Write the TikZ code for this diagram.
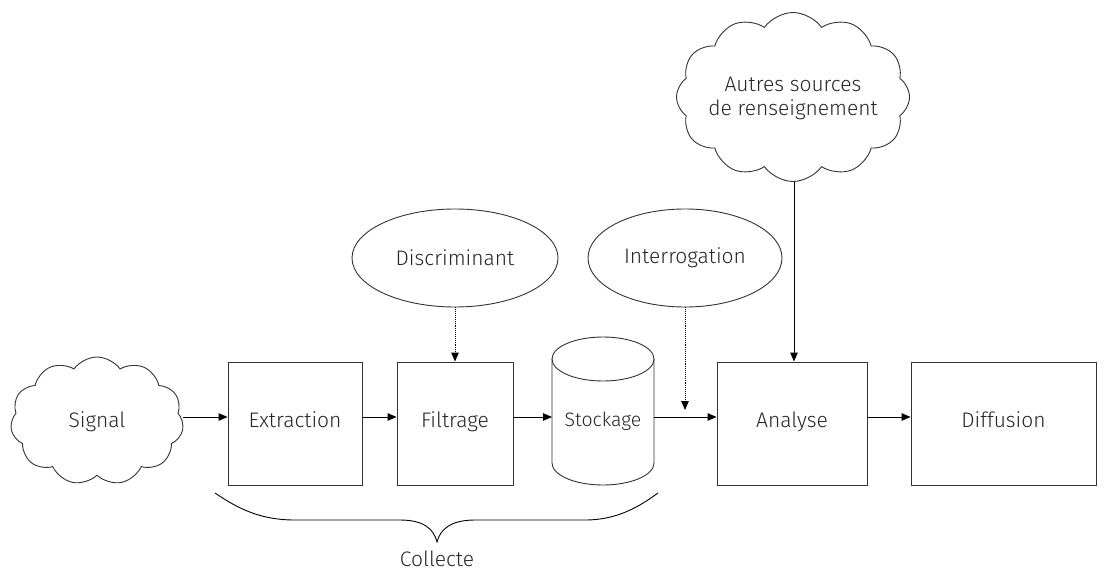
\documentclass[tikz,border=0pt]{standalone}
\usepackage{fontspec}
\setmainfont{Fira Sans}[UprightFont=* Light]
\usetikzlibrary{shapes.symbols,shapes.geometric,arrows.meta}
\begin{document}
\begin{tikzpicture}[x=1pt,y=-1pt,
  every node/.style={font=\fontsize{21}{24}\selectfont, text=black!85},
  line/.style={draw=black!80, line width=0.9pt},
  boxnode/.style={line, rectangle, inner sep=0pt, text height=14.5pt, text depth=6pt},
  ovalnode/.style={line, ellipse, inner sep=0pt},
  cloudnode/.style={line, cloud, cloud puffs=11, cloud puff arc=110, inner sep=0pt},
  arr/.style={draw=black, line width=0.9pt, -{Triangle[length=9pt,width=7.5pt]}},
  dotarr/.style={arr, densely dotted}]
\useasboundingbox (0,0) rectangle (1107,572);

% clouds
\node[cloudnode, minimum width=173pt, minimum height=128pt] (sigc) at (97,421) {};
\node (sig) at (97,422) {Signal};
\node[cloudnode, minimum width=233pt, minimum height=169pt, cloud puffs=12] (autc) at (793,97) {};
\node[align=center, font=\fontsize{21}{24}\selectfont] (aut) at (793,98) {Autres sources\\de renseignement};

% boxes
\node[boxnode, minimum width=134pt, minimum height=123pt] (ext) at (295,423.5) {Extraction};
\node[boxnode, minimum width=116pt, minimum height=123pt] (fil) at (455,423.5) {Filtrage};
\node[boxnode, minimum width=150pt, minimum height=123pt] (ana) at (792,423.5) {Analyse};
\node[boxnode, minimum width=185pt, minimum height=123pt] (dif) at (1003.5,423.5) {Diffusion};

% cylinder
\node[minimum width=102pt, minimum height=148pt, inner sep=0pt] (sto) at (603,411) {};
\draw[line] (552,359) -- (552,463) arc[start angle=180, end angle=0, x radius=51, y radius=22] -- (654,359);
\draw[line] (603,359) ellipse[x radius=51, y radius=22];
\node[font=\fontsize{19.5}{22}\selectfont] (stot) at (603,421) {Stockage};

% ellipses
\node[ovalnode, minimum width=206pt, minimum height=98pt] (dis) at (455,258) {Discriminant};
\node[ovalnode, minimum width=194pt, minimum height=98pt] (int) at (685,258) {Interrogation};

% connectors
\coordinate (stoL) at (552,417);
\coordinate (stoR) at (654,417);
\coordinate (intE) at (685,410);
\draw[arr] (sigc.east |- 0,417) -- (ext.west |- 0,417);
\draw[arr] (ext.east |- 0,417) -- (fil.west |- 0,417);
\draw[arr] (fil.east |- 0,417) -- (stoL);
\draw[arr] (stoR) -- (ana.west |- 0,417);
\draw[arr] (ana.east |- 0,417) -- (dif.west |- 0,417);
\draw[dotarr] (dis.south) -- (fil.north);
\draw[dotarr] (int.south) -- (intE);
\draw[arr] (autc.south -| 794,0) -- (ana.north -| 794,0);

% brace
\draw[draw=black, line width=0.9pt] (215,493) .. controls (240,510) and (262,520) .. (295,520) -- (400,520) .. controls (425,520) and (434,530) .. (437,542)
  .. controls (440,530) and (450,520) .. (475,520) -- (585,520) .. controls (618,520) and (640,506) .. (658,493);
\node (col) at (437,559) {Collecte};
\end{tikzpicture}
\end{document}
